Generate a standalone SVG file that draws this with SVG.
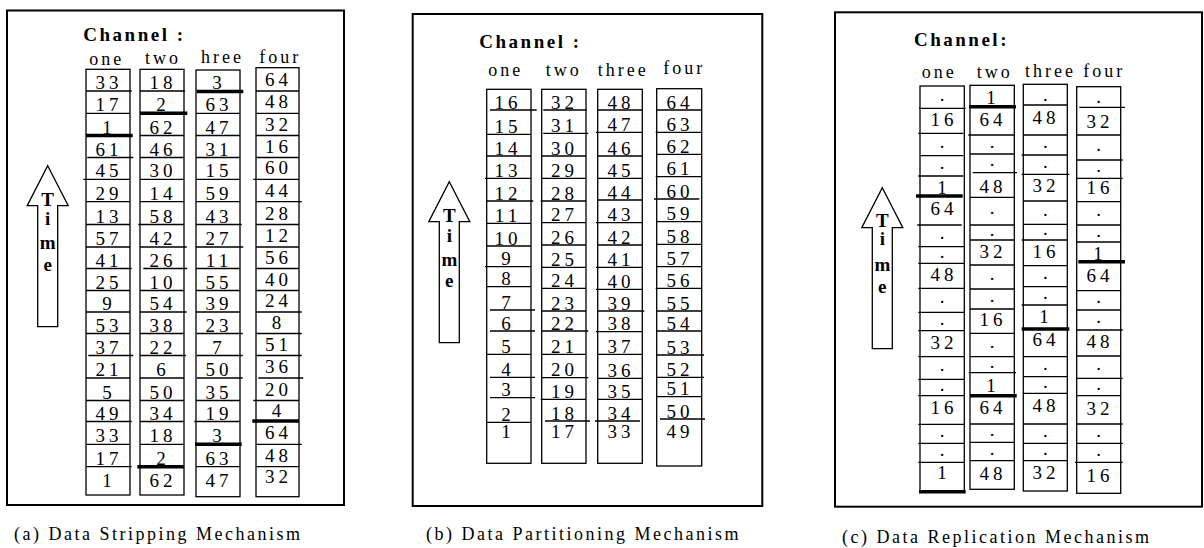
<svg xmlns="http://www.w3.org/2000/svg" xmlns:xlink="http://www.w3.org/1999/xlink" width="1204" height="548" viewBox="0 0 1204 548">
<style>
.fr{fill:none;stroke:#000;stroke-width:2}
.col{fill:#fff;stroke:#000;stroke-width:1.3}
.dv{fill:none;stroke:#000;stroke-width:1.3}
.tk{fill:none;stroke:#000;stroke-width:3.6}
.arr{fill:#fff;stroke:#000;stroke-width:1.3}
text{font-family:"Liberation Serif","Times New Roman",serif;fill:#000}
.n{font-size:19px;letter-spacing:4px;text-anchor:middle}
.d{font-size:19px;text-anchor:middle}
.lb{font-size:18px;letter-spacing:3px}
.tt{font-size:19px;font-weight:bold;letter-spacing:2.5px}
.tm{font-size:19px;font-weight:bold;text-anchor:middle}
.cp{font-size:18px;letter-spacing:2.5px}
</style>
<defs>
<path id="arrow" class="arr" d="M0 0L20.5 40L10 40L10 161L-10 161L-10 40L-20.5 40Z"/>
</defs>
<rect x="0" y="0" width="1204" height="548" fill="#fff"/>

<!-- Panel A -->
<g id="panel-a">
<rect class="fr" x="7" y="10.5" width="337" height="494.5"/>
<text class="tt" x="83.3" y="41">Channel :</text>
<g class="lb"><text x="89.3" y="65">one</text><text x="145" y="64">two</text><text x="201" y="62.7">hree</text><text x="259.3" y="62.7">four</text></g>
<g id="a-time"><use xlink:href="#arrow" x="47.7" y="165.7"/>
<g class="tm"><text x="47.7" y="206">T</text><text x="47.7" y="225">i</text><text x="47.7" y="249">m</text><text x="47.7" y="271">e</text></g></g>
<g id="a-one">
<rect class="col" x="86" y="69.3" width="44" height="425.7"/>
<path class="dv" d="M86 91H131.7M86 113.3H130M87.3 157.5H133.3M83.3 179.3H130M86 201.7H130M86 224.5H130M86 247H130M86 268.5H131.7M86 290.5H130M86 312H130M86 333.5H130M88.3 355.5H133.3M86 378H130M86 400.5H130M86 421.5H131.7M86 444.3H130M86 466.7H131.7"/>
<path class="tk" d="M86 135.5H132.7"/>
<g class="n"><text x="109" y="89">33</text><text x="109" y="111.3">17</text><text x="109" y="133.5">1</text><text x="109" y="155.5">61</text><text x="109" y="177.3">45</text><text x="109" y="199.7">29</text><text x="109" y="222.5">13</text><text x="109" y="245">57</text><text x="109" y="266.5">41</text><text x="109" y="288.5">25</text><text x="109" y="310">9</text><text x="109" y="331.5">53</text><text x="109" y="353.5">37</text><text x="109" y="376">21</text><text x="109" y="398.5">5</text><text x="109" y="419.5">49</text><text x="109" y="442.3">33</text><text x="109" y="464.7">17</text><text x="109" y="486.7">1</text></g>
</g>
<g id="a-two">
<rect class="col" x="140" y="69.3" width="44" height="425.7"/>
<path class="dv" d="M140 91H185M140 135.5H184M140 157.5H184M140 179.3H184M140 201.7H184M138.3 224.5H184M140 247H186.7M143.3 268.5H187.3M140 290.5H184M140 312H186.7M140 333.5H184M140 355.5H186M140 378H184M140 400.5H184M140 421.5H184M140 444.3H184"/>
<path class="tk" d="M140 113.3H187.3M137.3 466.7H184"/>
<g class="n"><text x="163" y="89">18</text><text x="163" y="111.3">2</text><text x="163" y="133.5">62</text><text x="163" y="155.5">46</text><text x="163" y="177.3">30</text><text x="163" y="199.7">14</text><text x="163" y="222.5">58</text><text x="163" y="245">42</text><text x="163" y="266.5">26</text><text x="163" y="288.5">10</text><text x="163" y="310">54</text><text x="163" y="331.5">38</text><text x="163" y="353.5">22</text><text x="163" y="376">6</text><text x="163" y="398.5">50</text><text x="163" y="419.5">34</text><text x="163" y="442.3">18</text><text x="163" y="464.7">2</text><text x="163" y="486.7">62</text></g>
</g>
<g id="a-three">
<rect class="col" x="196" y="70" width="44" height="426.7"/>
<path class="dv" d="M196 113.3H240M196 135.5H240M196 157.5H240M196 179.3H240M196 201.7H240M196 224.5H241.7M196 247H243.3M196 268.5H240M196 290.5H240M196 312H240M196.7 333.5H242.7M196.7 355.5H242.7M196.7 378H242.7M196 400.5H240M194.3 421.5H240M196 466.7H240"/>
<path class="tk" d="M196.7 91.5H243.3M195 444.3H241.7"/>
<g class="n"><text x="219" y="89">3</text><text x="219" y="111.3">63</text><text x="219" y="133.5">47</text><text x="219" y="155.5">31</text><text x="219" y="177.3">15</text><text x="219" y="199.7">59</text><text x="219" y="222.5">43</text><text x="219" y="245">27</text><text x="219" y="266.5">11</text><text x="219" y="288.5">55</text><text x="219" y="310">39</text><text x="219" y="331.5">23</text><text x="219" y="353.5">7</text><text x="219" y="376">50</text><text x="219" y="398.5">35</text><text x="219" y="419.5">19</text><text x="219" y="442.3">3</text><text x="219" y="464.7">63</text><text x="219" y="486.7">47</text></g>
</g>
<g id="a-four">
<rect class="col" x="256" y="67.7" width="43" height="429"/>
<path class="dv" d="M256 91H299M256 113.3H299M256 135.5H299M256 157.5H299M253.3 179.3H299M256 201.7H301.7M256 224.5H299M256 247H299M256 268.5H299M256 290.5H299M256 312H301.7M256 333.5H301.7M256 355.5H301.7M258.3 378H303.3M253.3 400.5H299M256 444.3H301.7M256 466.7H299"/>
<path class="tk" d="M252.3 421H299"/>
<g class="n"><text x="278.5" y="86">64</text><text x="278.5" y="108.3">48</text><text x="278.5" y="130.5">32</text><text x="278.5" y="152.5">16</text><text x="278.5" y="174.3">60</text><text x="278.5" y="196.7">44</text><text x="278.5" y="219.5">28</text><text x="278.5" y="242">12</text><text x="278.5" y="263.5">56</text><text x="278.5" y="285.5">40</text><text x="278.5" y="307">24</text><text x="278.5" y="328.5">8</text><text x="278.5" y="350.5">51</text><text x="278.5" y="373">36</text><text x="278.5" y="395.5">20</text><text x="278.5" y="416.5">4</text><text x="278.5" y="439.3">64</text><text x="278.5" y="461.7">48</text><text x="278.5" y="483">32</text></g>
</g>
<text class="cp" x="14" y="540">(a) Data Stripping Mechanism</text>
</g>

<!-- Panel B -->
<g id="panel-b">
<rect class="fr" x="412.7" y="14" width="349.6" height="492"/>
<text class="tt" x="479.3" y="48.3">Channel :</text>
<g class="lb"><text x="488.3" y="76">one</text><text x="545.7" y="76">two</text><text x="597.7" y="76">three</text><text x="663.3" y="74">four</text></g>
<g id="b-time"><use xlink:href="#arrow" x="449.3" y="181.7"/>
<g class="tm"><text x="449.3" y="222">T</text><text x="449.3" y="241.5">i</text><text x="449.3" y="265.5">m</text><text x="449.3" y="287">e</text></g></g>
<g id="b-one">
<rect class="col" x="486.7" y="89.3" width="44.3" height="374"/>
<path class="dv" d="M490 110H536.7M486 134.3H531M486 156H531M485 178.3H531M486.7 201H533.3M486 223.3H531M486 246H531M485 266.7H531M486 286.7H531M490 310H535M490 331H535M486 354.3H531M490 377.3H535M490 397.7H535M486 422.3H531"/>
<g class="n"><text x="508" y="108.5">16</text><text x="508" y="132.8">15</text><text x="508" y="154.5">14</text><text x="508" y="176.8">13</text><text x="508" y="199.5">12</text><text x="508" y="221.8">11</text><text x="508" y="244.5">10</text><text x="508" y="265.2">9</text><text x="508" y="285.2">8</text><text x="508" y="308.5">7</text><text x="508" y="329.5">6</text><text x="508" y="352.8">5</text><text x="508" y="375.8">4</text><text x="508" y="396.2">3</text><text x="508" y="420.8">2</text><text x="508" y="438.3">1</text></g>
</g>
<g id="b-two">
<rect class="col" x="541.7" y="89.3" width="44.3" height="374"/>
<path class="dv" d="M543.3 110H586.7M543.3 133.3H588.3M541.7 156H586M541.7 178.3H586M540.7 201H586M541.7 222.7H586M541.7 245H586M541.7 267.3H586M541.7 288.3H586M541.7 311H586M541.7 331H588.3M541.7 354.3H586M541.7 377.7H588.3M540.7 399.3H586M545 421H590"/>
<g class="n"><text x="564.5" y="108.5">32</text><text x="564.5" y="131.8">31</text><text x="564.5" y="154.5">30</text><text x="564.5" y="176.8">29</text><text x="564.5" y="199.5">28</text><text x="564.5" y="221.2">27</text><text x="564.5" y="243.5">26</text><text x="564.5" y="265.8">25</text><text x="564.5" y="286.8">24</text><text x="564.5" y="309.5">23</text><text x="564.5" y="329.5">22</text><text x="564.5" y="352.8">21</text><text x="564.5" y="376.2">20</text><text x="564.5" y="397.8">19</text><text x="564.5" y="419.5">18</text><text x="564.5" y="438.3">17</text></g>
</g>
<g id="b-three">
<rect class="col" x="597.7" y="89.3" width="44.6" height="374"/>
<path class="dv" d="M597.7 110H642.3M596 132.3H642.3M597.7 156H642.3M597.7 178.3H642.3M597.7 200H642.3M596 222.7H642.3M597.7 245H642.3M596 267.3H642.3M596 289.3H642.3M597.7 311H644.3M596 331.7H642.3M597.7 354.3H642.3M597.7 378.3H642.3M597.7 399.3H642.3M595 421H640"/>
<g class="n"><text x="621" y="108.5">48</text><text x="621" y="130.8">47</text><text x="621" y="154.5">46</text><text x="621" y="176.8">45</text><text x="621" y="198.5">44</text><text x="621" y="221.2">43</text><text x="621" y="243.5">42</text><text x="621" y="265.8">41</text><text x="621" y="287.8">40</text><text x="621" y="309.5">39</text><text x="621" y="330.2">38</text><text x="621" y="352.8">37</text><text x="621" y="376.8">36</text><text x="621" y="397.8">35</text><text x="621" y="419.5">34</text><text x="621" y="438.3">33</text></g>
</g>
<g id="b-four">
<rect class="col" x="656.7" y="88.7" width="45" height="377.3"/>
<path class="dv" d="M656.7 110H701.7M655.7 132.3H701.7M656.7 154.3H701.7M655.7 176.7H701.7M654 199H699.3M656.7 221.7H701.7M656.7 244.3H701.7M656.7 266.7H701.7M655.7 288.3H701.7M656.7 311H701.7M656.7 331H701.7M656.7 355H704M656.7 377.3H704M656.7 396.7H701.7M660 419H705"/>
<g class="n"><text x="680" y="108.5">64</text><text x="680" y="130.8">63</text><text x="680" y="152.8">62</text><text x="680" y="175.2">61</text><text x="680" y="197.5">60</text><text x="680" y="220.2">59</text><text x="680" y="242.8">58</text><text x="680" y="265.2">57</text><text x="680" y="286.8">56</text><text x="680" y="309.5">55</text><text x="680" y="329.5">54</text><text x="680" y="353.5">53</text><text x="680" y="375.8">52</text><text x="680" y="395.2">51</text><text x="680" y="417.5">50</text><text x="680" y="438.3">49</text></g>
</g>
<text class="cp" x="426" y="540">(b) Data Partitioning Mechanism</text>
</g>

<!-- Panel C -->
<g id="panel-c">
<rect class="fr" x="835" y="12.3" width="367" height="494.4"/>
<text class="tt" x="914" y="46">Channel:</text>
<g class="lb"><text x="921.7" y="78">one</text><text x="976.7" y="78">two</text><text x="1025" y="76.7">three</text><text x="1083.3" y="77">four</text></g>
<g id="c-time"><use xlink:href="#arrow" x="882.3" y="187.7"/>
<g class="tm"><text x="882.3" y="227">T</text><text x="882.3" y="245">i</text><text x="882.3" y="270.7">m</text><text x="882.3" y="293">e</text></g></g>
<g id="c-one">
<rect class="col" x="920" y="86" width="44.3" height="405.7"/>
<path class="dv" d="M919 108.3H965.7M918.3 133.3H963.3M920 155.7H963.3M918.3 176H963.3M917.3 225H961.7M918.3 246.7H964.3M918.3 263.3H964.3M918.3 288.3H964.3M918.3 312.3H964.3M918.3 330.7H964.3M918.3 356.7H964.3M918.3 379.3H964.3M918.3 395.7H964.3M918.3 424.3H964.3M918.3 443.3H964.3M918.3 462.3H964.3"/>
<path class="tk" d="M916 196H962.7M919 491.7H965.7"/>
<g class="n"><text x="944" y="126.3">16</text><text x="944" y="194">1</text><text x="944" y="215">64</text><text x="944" y="281.3">48</text><text x="944" y="348.7">32</text><text x="944" y="413.7">16</text><text x="944" y="478.5">1</text></g>
<g class="d"><text x="942" y="101">.</text><text x="942" y="147.5">.</text><text x="942" y="168.9">.</text><text x="942" y="238.9">.</text><text x="942" y="258">.</text><text x="942" y="303.3">.</text><text x="942" y="324.5">.</text><text x="942" y="371">.</text><text x="942" y="390.5">.</text><text x="942" y="436.8">.</text><text x="942" y="455.8">.</text></g>
</g>
<g id="c-two">
<rect class="col" x="970" y="85.3" width="44.3" height="404"/>
<path class="dv" d="M968.3 135H1014.3M970 154H1014.3M972.7 172.7H1017M970 197.3H1014.3M970 225H1014.3M970 240H1014.3M970 265H1014.3M970 289H1014.3M970 309H1014.3M970 333.3H1014.3M970 356.7H1014.3M968.7 372.7H1016M970 424H1014.3M970 442.3H1014.3M970 460.7H1014.3"/>
<path class="tk" d="M969 106.7H1016M970 395.7H1016.7"/>
<g class="n"><text x="993" y="104">1</text><text x="993" y="126">64</text><text x="993" y="192.5">48</text><text x="993" y="257.5">32</text><text x="993" y="326">16</text><text x="993" y="392">1</text><text x="993" y="414">64</text><text x="993" y="480">48</text></g>
<g class="d"><text x="992" y="147.5">.</text><text x="992" y="166.4">.</text><text x="992" y="214.2">.</text><text x="992" y="235.5">.</text><text x="992" y="280">.</text><text x="992" y="302">.</text><text x="992" y="348">.</text><text x="992" y="367.7">.</text><text x="992" y="436.2">.</text><text x="992" y="454.5">.</text></g>
</g>
<g id="c-three">
<rect class="col" x="1023.3" y="84.3" width="44" height="406.7"/>
<path class="dv" d="M1023.3 105H1067.3M1023.3 135H1067.3M1021.7 155H1067.3M1021.7 174.3H1069.3M1023.3 201H1067.3M1023.3 224.3H1067.3M1021.7 240H1067.3M1023.3 265.7H1067.3M1023.3 286.7H1067.3M1021.7 305H1067.3M1023.3 356.7H1067.3M1023.3 376.7H1067.3M1023.3 393.3H1067.3M1023.3 424H1067.3M1023.3 443.3H1067.3M1023.3 460.7H1067.3"/>
<path class="tk" d="M1021.7 329H1069.3"/>
<g class="n"><text x="1046" y="124">48</text><text x="1046" y="192">32</text><text x="1046" y="257.5">16</text><text x="1046" y="323">1</text><text x="1046" y="345.5">64</text><text x="1046" y="412">48</text><text x="1046" y="478.5">32</text></g>
<g class="d"><text x="1045.3" y="101">.</text><text x="1045.3" y="148">.</text><text x="1045.3" y="167.7">.</text><text x="1045.3" y="215.7">.</text><text x="1045.3" y="235.2">.</text><text x="1045.3" y="279.2">.</text><text x="1045.3" y="298.9">.</text><text x="1045.3" y="369.7">.</text><text x="1045.3" y="388">.</text><text x="1045.3" y="436.7">.</text><text x="1045.3" y="455">.</text></g>
</g>
<g id="c-four">
<rect class="col" x="1076.7" y="86.7" width="44" height="406.6"/>
<path class="dv" d="M1079.3 107.3H1125M1076.7 135H1120.7M1076.7 160H1122.7M1076.7 178.3H1122.7M1076.7 201.7H1120.7M1076.7 225H1120.7M1076.7 242H1120.7M1076.7 290.7H1120.7M1076.7 310H1120.7M1076.7 330H1122.7M1076.7 356H1120.7M1076.7 378.3H1122.7M1076.7 395.7H1120.7M1076.7 424H1122.7M1076.7 443.3H1122.7M1075 462.3H1122.7"/>
<path class="tk" d="M1078.3 261.7H1125"/>
<g class="n"><text x="1100" y="128">32</text><text x="1100" y="193.5">16</text><text x="1100" y="260">1</text><text x="1100" y="282">64</text><text x="1100" y="348">48</text><text x="1100" y="415">32</text><text x="1100" y="481.7">16</text></g>
<g class="d"><text x="1098.7" y="103">.</text><text x="1098.7" y="150.5">.</text><text x="1098.7" y="172.2">.</text><text x="1098.7" y="216.4">.</text><text x="1098.7" y="236.5">.</text><text x="1098.7" y="303.4">.</text><text x="1098.7" y="323">.</text><text x="1098.7" y="370.2">.</text><text x="1098.7" y="390">.</text><text x="1098.7" y="436.7">.</text><text x="1098.7" y="455.8">.</text></g>
</g>
<text class="cp" x="842" y="543">(c) Data Replication Mechanism</text>
</g>
</svg>
